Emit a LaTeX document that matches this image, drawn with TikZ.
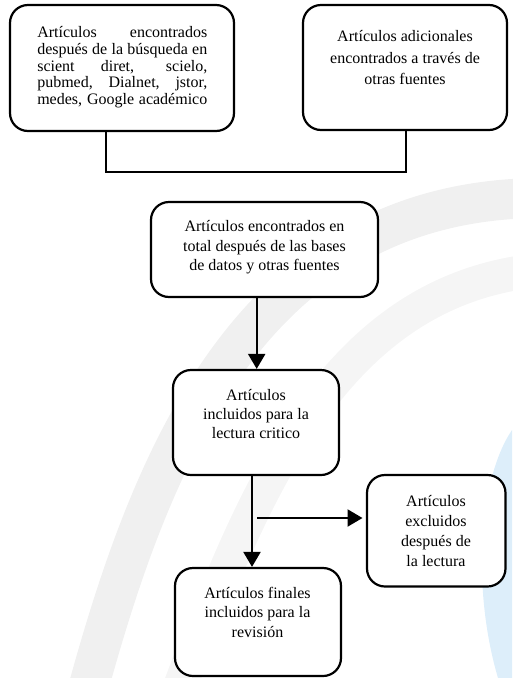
\documentclass[tikz,border=0pt]{standalone}
\usepackage{fontspec}
\setmainfont{Liberation Serif}
\usetikzlibrary{arrows.meta}
\definecolor{wmgray}{HTML}{F0F0F0}
\definecolor{wmgrayb}{HTML}{F5F5F5}
\definecolor{wmblue}{HTML}{DDEEFA}
\newcommand\btext[2]{\parbox[t]{220pt}{\centering\fontsize{16}{#1}\selectfont #2}}
\newcommand\jline[1]{\makebox[170pt][s]{#1}}
\begin{document}
\begin{tikzpicture}[x=1pt,y=-1pt,
  box/.style={draw,line width=2.2pt,rounded corners=18pt,fill=white,inner sep=0pt},
  txt/.style={inner sep=0pt,anchor=base},
  conn/.style={line width=2.2pt},
  arr/.style={line width=2.2pt,-{Triangle[width=17pt,length=15pt]}}]
\useasboundingbox (0,0) rectangle (512,678);
% faint watermark
\draw[wmgray,line width=40pt] (85,700) .. controls (150,460) and (250,200) .. (540,198);
\draw[wmgrayb,line width=34pt] (175,700) .. controls (250,500) and (330,290) .. (540,270);
\fill[wmblue] (512,430) .. controls (478,480) and (472,590) .. (498,678) -- (512,678) -- cycle;
% boxes
\node[box,minimum width=224pt,minimum height=126pt] (b1) at (122,68) {};
\node[box,minimum width=204pt,minimum height=125pt] (b2) at (405,67.5) {};
\node[box,minimum width=227pt,minimum height=95pt] (b3) at (264.5,249.5) {};
\node[box,minimum width=166pt,minimum height=105pt] (b4) at (256,422.5) {};
\node[box,minimum width=166pt,minimum height=108pt] (b5) at (258,622) {};
\node[box,minimum width=138.5pt,minimum height=111.5pt] (b6) at (436.25,530.75) {};
% texts
\node[txt] (t1) at (122.3,37.7) {\parbox[t]{170pt}{\fontsize{16}{16.7}\selectfont
  \jline{Artículos encontrados}\\
  \jline{después de la búsqueda en}\\
  \jline{scient diret, scielo,}\\
  \jline{pubmed, Dialnet, jstor,}\\
  \jline{medes, Google académico}}};
\node[txt] (t2) at (405,41.7) {\btext{21.5}{Artículos adicionales\\encontrados a través de\\otras fuentes}};
\node[txt] (t3) at (264.5,231.7) {\btext{19.5}{Artículos encontrados en\\total después de las bases\\de datos y otras fuentes}};
\node[txt] (t4) at (256,400.7) {\btext{19}{Artículos\\incluidos para la\\lectura critico}};
\node[txt] (t5) at (257.5,598) {\btext{19.8}{Artículos finales\\incluidos para la\\revisión}};
\node[txt] (t6) at (436,506.7) {\btext{19.8}{Artículos\\excluidos\\después de\\la lectura}};
% connectors
\coordinate (j1) at (106,172);
\coordinate (j2) at (406,172);
\draw[conn] (b1.south -| j1) -- (j1) -- (j2) -- (b2.south -| j2);
\coordinate (a1) at (256.7,0);
\draw[arr] (b3.south -| a1) -- (b4.north -| a1);
\coordinate (a2) at (252,0);
\draw[arr] (b4.south -| a2) -- (b5.north -| a2);
\coordinate (s1) at (257,518);
\coordinate (s2) at (362.5,518);
\draw[arr] (s1) -- (s2);
\end{tikzpicture}
\end{document}
